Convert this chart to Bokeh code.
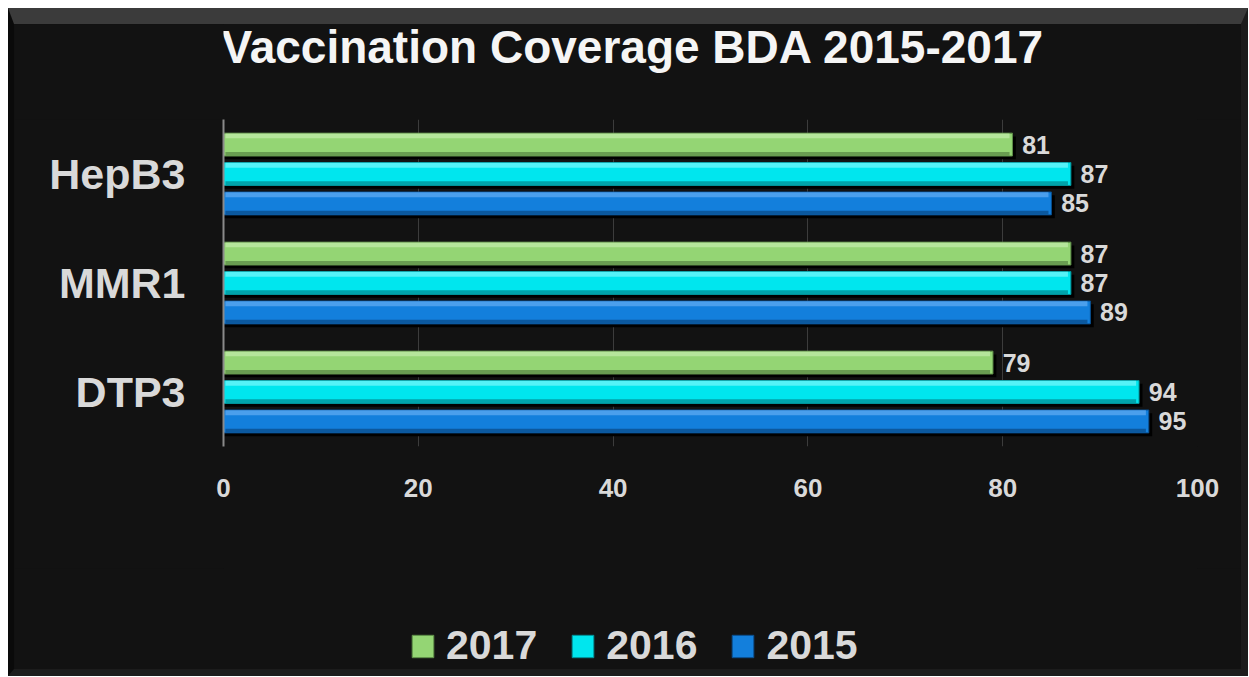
from bokeh.plotting import figure
from bokeh.layouts import column
from bokeh.models import ColumnDataSource, FactorRange, Range1d, Legend, LegendItem, Label
from bokeh.transform import dodge
from bokeh.embed import file_html
from bokeh.resources import INLINE

categories = ["DTP3", "MMR1", "HepB3"]
years = ["2017", "2016", "2015"]
v2017 = [79, 87, 81]
v2016 = [94, 87, 87]
v2015 = [95, 89, 85]
x_ticks = [0, 20, 40, 60, 80, 100]
title_text = "Vaccination Coverage BDA 2015-2017"

src = ColumnDataSource(dict(cat=categories, v2017=v2017, v2016=v2016, v2015=v2015,
                            l2017=[str(v) for v in v2017],
                            l2016=[str(v) for v in v2016],
                            l2015=[str(v) for v in v2015]))

FONT = "Liberation Sans"
TXT = "#d9d9d9"
BG = "#121212"
W = 1227
BL, BR = 209, 44

def blank(height):
    f = figure(width=W, height=height, output_backend="svg", toolbar_location=None,
               x_range=Range1d(0, 1), y_range=Range1d(0, 1), x_axis_type=None, y_axis_type=None,
               min_border_left=BL, min_border_right=BR, min_border_top=0, min_border_bottom=0,
               background_fill_color=BG, border_fill_color=BG, outline_line_color=None)
    f.xgrid.grid_line_color = None
    f.ygrid.grid_line_color = None
    return f

# title strip
tf = blank(95)
tf.add_layout(Label(x=-2, y=73, x_units="screen", y_units="screen", text=title_text,
                    text_font=FONT, text_font_size="46px", text_font_style="bold",
                    text_color="#f5f5f5", text_baseline="alphabetic", text_align="left"))

p = figure(width=W, height=449, output_backend="svg", toolbar_location=None,
           y_range=FactorRange(factors=categories, range_padding=0),
           x_range=Range1d(0, 100),
           min_border_left=BL, min_border_right=BR, min_border_top=0, min_border_bottom=122,
           background_fill_color=BG, border_fill_color=BG, outline_line_color=None)

styles = {
    "2017": dict(col="v2017", lab="l2017", off=0.27, main="#94d574", hi="#bdeaa5", lo="#5e8f48"),
    "2016": dict(col="v2016", lab="l2016", off=0.0, main="#00e6ee", hi="#6af5f9", lo="#00939a"),
    "2015": dict(col="v2015", lab="l2015", off=-0.27, main="#137fdc", hi="#5aa8f0", lo="#0a4f8f"),
}
H = 0.21
for yr in years:
    s = styles[yr]
    p.hbar(y=dodge("cat", s["off"] - 0.03, range=p.y_range), right=dodge(s["col"], 0.35), left=0,
           height=H, source=src, fill_color="#000000", line_color=None)
    p.hbar(y=dodge("cat", s["off"], range=p.y_range), right=s["col"], left=0, height=H,
           source=src, fill_color=s["main"], line_color=s["lo"], line_width=1)
    p.hbar(y=dodge("cat", s["off"] + 0.08, range=p.y_range), right=dodge(s["col"], -0.3), left=0.2,
           height=0.045, source=src, fill_color=s["hi"], line_color=None, fill_alpha=0.8)
    p.hbar(y=dodge("cat", s["off"] - 0.085, range=p.y_range), right=dodge(s["col"], -0.3), left=0.2,
           height=0.035, source=src, fill_color=s["lo"], line_color=None, fill_alpha=0.8)
    p.text(x=dodge(s["col"], 1.0), y=dodge("cat", s["off"], range=p.y_range), text=s["lab"],
           source=src, text_font_size="25px", text_font_style="bold", text_color=TXT,
           text_baseline="middle", text_align="left", text_font={"value": FONT})

p.xaxis.ticker = x_ticks
p.xaxis.axis_line_color = None
p.xaxis.major_tick_line_color = None
p.xaxis.minor_tick_line_color = None
p.xaxis.major_label_text_font = FONT
p.xaxis.major_label_text_font_size = "26px"
p.xaxis.major_label_text_font_style = "bold"
p.xaxis.major_label_text_color = TXT
p.xaxis.major_label_standoff = 26

p.yaxis.axis_line_color = "#8a8a8a"
p.yaxis.axis_line_width = 2
p.yaxis.major_tick_line_color = None
p.yaxis.minor_tick_line_color = None
p.yaxis.major_label_text_font = FONT
p.yaxis.major_label_text_font_size = "43px"
p.yaxis.major_label_text_font_style = "bold"
p.yaxis.major_label_text_color = TXT
p.yaxis.major_label_standoff = 32

p.xgrid.grid_line_color = "#3c3c3c"
p.xgrid.grid_line_width = 1
p.ygrid.grid_line_color = None

# legend strip (legend swatches taken from hidden copies of the bars)
lg = blank(101)
items = []
for yr in years:
    s = styles[yr]
    r = lg.hbar(y=0.5, right=s["col"], left=0, height=1, source=src, visible=False,
                fill_color=s["main"], line_color=s["lo"], line_width=1)
    items.append(LegendItem(label=yr, renderers=[r]))
legend = Legend(items=items, orientation="horizontal", location=(186, 0),
                glyph_width=27, glyph_height=28, label_standoff=10, spacing=32,
                padding=0, margin=0, border_line_color=None, background_fill_alpha=0,
                label_text_font=FONT, label_text_font_size="41px", label_text_font_style="bold",
                label_text_color=TXT, click_policy="none")
lg.add_layout(legend, "center")

layout = column(tf, p, lg, spacing=0, margin=(8, 0, 0, 8),
                styles={"background-color": BG,
                        "border-top": "16px solid #3b3b3b",
                        "border-left": "6px solid #0a0a0a",
                        "border-right": "7px solid #1c1c1c",
                        "border-bottom": "7px solid #1c1c1c"})
open("out.html", "w").write(file_html(layout, INLINE))
